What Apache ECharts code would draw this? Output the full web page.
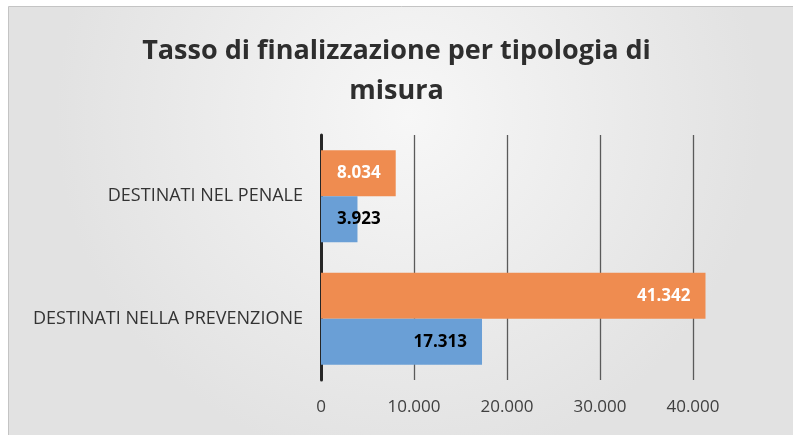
<!DOCTYPE html>
<html>
<head>
<meta charset="utf-8">
<script src="https://cdn.jsdelivr.net/npm/echarts@6/dist/echarts.min.js"></script>
<style>
  html, body { margin: 0; padding: 0; background: #fff; }
  #chart { width: 793px; height: 435px; }
</style>
</head>
<body>
<div id="chart"></div>
<script>
const categories = ["DESTINATI NELLA PREVENZIONE", "DESTINATI NEL PENALE"];
const orangeValues = [41342, 8034];
const blueValues = [17313, 3923];

const fmt = v => String(v).replace(/\B(?=(\d{3})+(?!\d))/g, ".");

// small blue bar: label spills past the bar end, like the original
const blueData = blueValues.map(v => v < 5000
    ? { value: v, label: { position: [16, "50%"], align: "left", verticalAlign: "middle" } }
    : v);

const chart = echarts.init(document.getElementById("chart"));

chart.setOption({
    backgroundColor: "#fff",
    animation: false,
    graphic: [{
        type: "rect",
        z: -10,
        silent: true,
        shape: { x: 8.5, y: 6.5, width: 800, height: 440 },
        style: {
            fill: new echarts.graphic.RadialGradient(0.5, 0.25, 0.8, [
                { offset: 0, color: "#f7f7f7" },
                { offset: 1, color: "#e2e2e2" }
            ]),
            stroke: "#c4c4c4",
            lineWidth: 1
        }
    }],
    title: {
        text: "Tasso di finalizzazione per tipologia di\nmisura",
        left: "center",
        top: 26,
        textStyle: {
            fontFamily: "Open Sans",
            fontSize: 27,
            fontWeight: "bold",
            lineHeight: 40,
            color: "#2e2e2e"
        }
    },
    grid: { left: 321, right: 100, top: 135, bottom: 55 },
    xAxis: {
        type: "value",
        min: 0,
        max: 40000,
        interval: 10000,
        axisLine: { show: false },
        axisTick: { show: false },
        splitLine: { lineStyle: { color: "#5a5a5a", width: 1.3 } },
        axisLabel: {
            formatter: fmt,
            margin: 19,
            fontFamily: "Open Sans",
            fontSize: 17,
            color: "#404040"
        }
    },
    yAxis: {
        type: "category",
        data: categories,
        axisTick: { show: false },
        axisLine: { lineStyle: { color: "#262626", width: 3 } },
        axisLabel: {
            margin: 18,
            fontFamily: "Open Sans",
            fontSize: 18,
            color: "#333"
        }
    },
    series: [
        {
            type: "bar",
            data: orangeValues,
            barGap: "0%",
            barCategoryGap: "25%",
            clip: false,
            itemStyle: { color: "#ef8c50" },
            label: {
                show: true,
                position: "insideRight",
                distance: 15,
                formatter: p => fmt(p.value),
                fontFamily: "Open Sans",
                fontSize: 17,
                fontWeight: "bold",
                color: "#fff"
            }
        },
        {
            type: "bar",
            data: blueData,
            barGap: "0%",
            barCategoryGap: "25%",
            clip: false,
            itemStyle: { color: "#6a9fd6" },
            label: {
                show: true,
                position: "insideRight",
                distance: 15,
                formatter: p => fmt(p.value),
                fontFamily: "Open Sans",
                fontSize: 17,
                fontWeight: "bold",
                color: "#000"
            }
        }
    ]
});
</script>
</body>
</html>
